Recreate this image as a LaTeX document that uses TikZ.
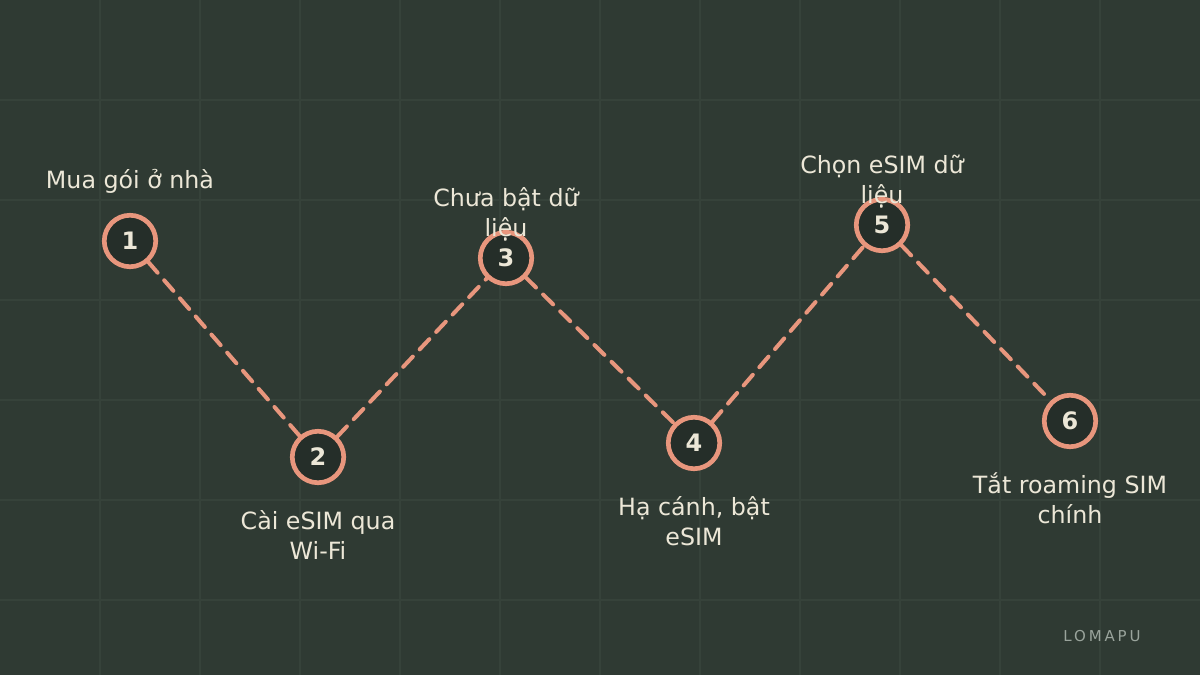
\documentclass[tikz,border=0pt]{standalone}
\usepackage{fontspec}
\setmainfont{DejaVu Sans}
\definecolor{bgc}{HTML}{2F3A33}
\definecolor{gridc}{HTML}{36423A}
\definecolor{fillc}{HTML}{252E29}
\definecolor{salmon}{HTML}{E8967D}
\definecolor{cream}{HTML}{ECE7D7}
\definecolor{markc}{HTML}{9AA49C}
\tikzset{
  stepnode/.style={circle, draw=salmon, fill=fillc, line width=3.5pt, minimum size=38.6pt, inner sep=0pt,
    text=cream, font=\fontsize{18}{20}\selectfont\bfseries},
  steplabel/.style={anchor=base, align=center, text=cream, inner sep=0pt,
    font=\fontsize{17.8}{22.5}\selectfont},
  link/.style={draw=salmon, line width=3pt, line cap=round, dash pattern=on 10.5pt off 7.5pt},
  gridline/.style={draw=gridc, line width=0.8pt},
}
\begin{document}
\begin{tikzpicture}[x=0.75pt, y=-0.75pt]
\fill[bgc] (0,0) rectangle (1200,675);
\useasboundingbox (0,0) rectangle (1200,675);
\foreach \gx in {100,200,...,1100} {\draw[gridline] (\gx,0) -- (\gx,675);}
\foreach \gy in {100,200,...,600} {\draw[gridline] (0,\gy) -- (1200,\gy);}

\node[stepnode] (n1) at (130,241) {1};
\node[stepnode] (n2) at (318,457) {2};
\node[stepnode] (n3) at (506,258) {3};
\node[stepnode] (n4) at (694,443) {4};
\node[stepnode] (n5) at (882,225) {5};
\node[stepnode] (n6) at (1070,421) {6};

\draw[link] (n1) -- (n2);
\draw[link] (n2) -- (n3);
\draw[link] (n3) -- (n4);
\draw[link] (n4) -- (n5);
\draw[link] (n5) -- (n6);

\node[steplabel] (l1) at (130,188) {Mua gói ở nhà};
\node[steplabel] (l2) at (318,559) {Cài eSIM qua\\Wi-Fi};
\node[steplabel] (l3) at (506,236) {Chưa bật dữ\\liệu};
\node[steplabel] (l4) at (694,545) {Hạ cánh, bật\\eSIM};
\node[steplabel] (l5) at (882,203) {Chọn eSIM dữ\\liệu};
\node[steplabel] (l6) at (1070,523) {Tắt roaming SIM\\chính};

\node[anchor=base, text=markc, inner sep=0pt, font=\fontsize{11.25}{13}\selectfont\addfontfeatures{LetterSpace=19}] (brand) at (1102,641) {LOMAPU};
\end{tikzpicture}
\end{document}
